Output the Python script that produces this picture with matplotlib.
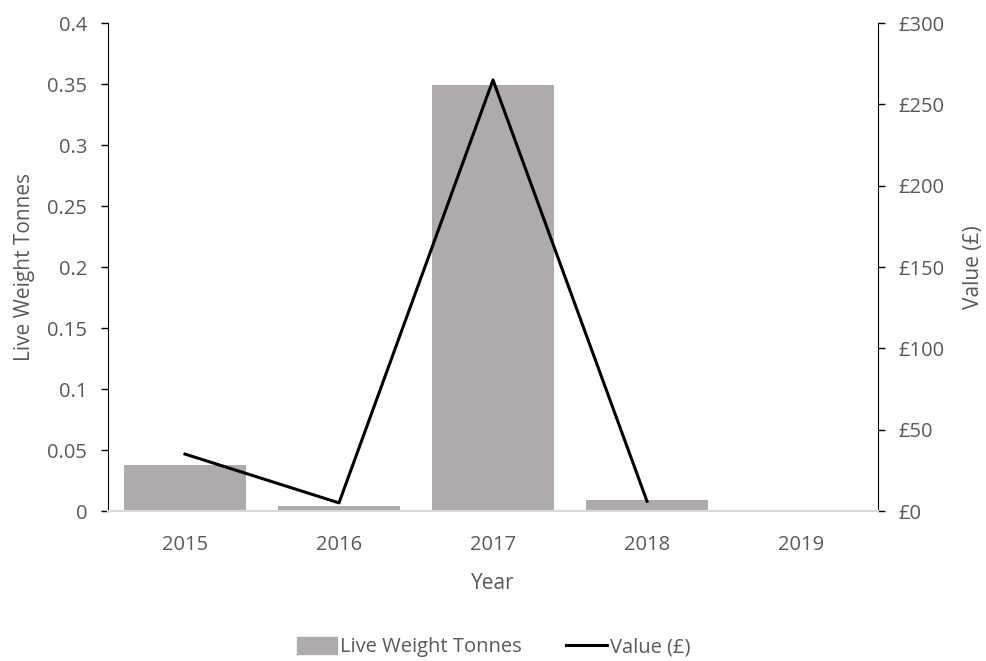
import matplotlib.pyplot as plt
from matplotlib.ticker import FuncFormatter
from matplotlib.lines import Line2D
from matplotlib.patches import Patch

years = ["2015", "2016", "2017", "2018", "2019"]
tonnes = [0.038, 0.004, 0.349, 0.009, 0.0]
value_years = ["2015", "2016", "2017", "2018"]
value_gbp = [35, 5, 265, 6]

plt.rcParams["font.family"] = ["Open Sans", "DejaVu Sans"]
text_col = "#595959"
bar_col = "#AFABAB"
fs = 14.5

fig = plt.figure(figsize=(9.87, 6.61), dpi=100)
ax = fig.add_axes([0.1094, 0.2269, 0.7802, 0.7383])
x = list(range(len(years)))
ax.bar(x, tonnes, width=0.79, color=bar_col, zorder=2)
ax.set_xlim(-0.5, len(years) - 0.5)
ax.set_ylim(0, 0.4)
ax.set_yticks([0, 0.05, 0.1, 0.15, 0.2, 0.25, 0.3, 0.35, 0.4])
ax.yaxis.set_major_formatter(FuncFormatter(lambda v, p: "0" if v == 0 else f"{v:g}"))
ax.set_xticks(x)
ax.set_xticklabels(years)

ax2 = ax.twinx()
ax2.plot([years.index(y) for y in value_years], value_gbp, color="black", lw=2.2, zorder=3)
ax2.set_ylim(0, 300)
ax2.set_yticks(range(0, 301, 50))
ax2.yaxis.set_major_formatter(FuncFormatter(lambda v, p: f"£{v:.0f}"))

for a in (ax, ax2):
    a.spines["top"].set_visible(False)
    a.tick_params(colors=text_col, labelsize=fs, length=5, width=1, pad=10)
    a.spines["bottom"].set_color("#D9D9D9")
    a.spines["bottom"].set_linewidth(1.5)
ax.spines["right"].set_visible(False)
ax2.spines["left"].set_visible(False)
ax.spines["left"].set_color("black")
ax2.spines["right"].set_color("black")
ax.tick_params(axis="y", color="black")
ax2.tick_params(axis="y", color="black")
ax.tick_params(axis="x", length=0, pad=17)

ax.set_xlabel("Year", color=text_col, fontsize=fs + 0.5, labelpad=13)
ax.set_ylabel("Live Weight Tonnes", color=text_col, fontsize=fs + 0.5, labelpad=9)
ax2.set_ylabel("Value (£)", color=text_col, fontsize=fs + 0.5, labelpad=13)

handles = [Patch(color=bar_col, label="Live Weight Tonnes"),
           Line2D([0], [0], color="black", lw=2.2, label="Value (£)")]
fig.legend(handles=handles, loc="lower center", bbox_to_anchor=(0.5, -0.022), ncol=2,
           frameon=False, fontsize=fs, labelcolor=text_col, handlelength=2.0,
           handleheight=0.9, handletextpad=0.15, columnspacing=2.2)

fig.savefig("out.png", dpi=100)
